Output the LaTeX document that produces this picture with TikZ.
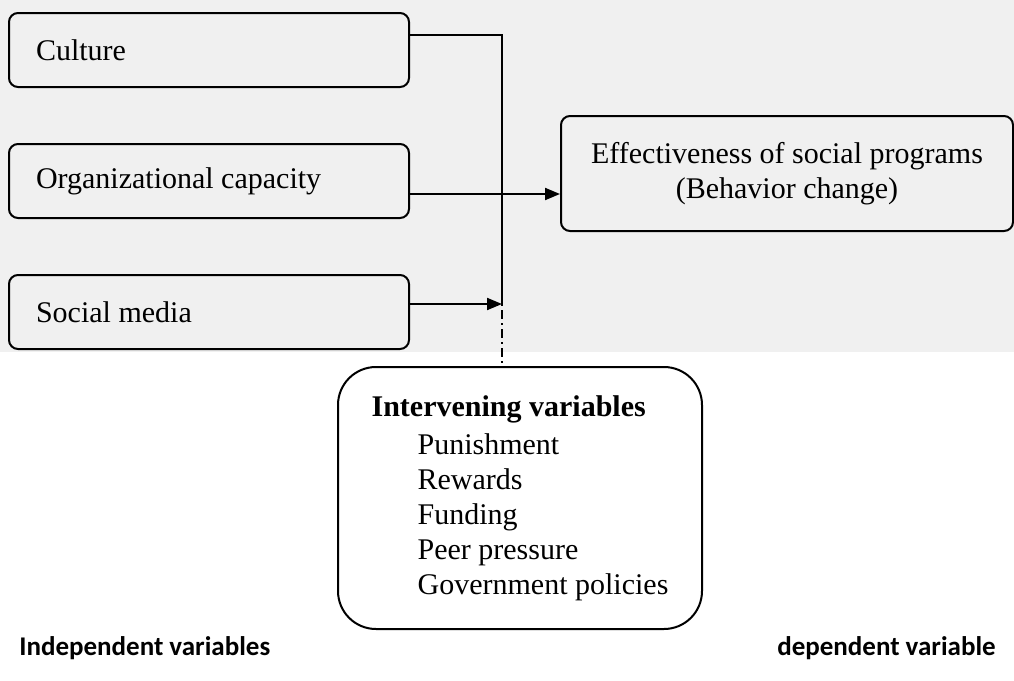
\documentclass[tikz,border=0pt]{standalone}
\usepackage{fontspec}
\setmainfont{Liberation Serif}
\newfontfamily\calfont{Carlito}
\usetikzlibrary{positioning,arrows.meta}

\begin{document}
\begin{tikzpicture}[x=1pt,y=-1pt,>={Triangle[length=15pt,width=12pt]},
		line width=2pt,node distance=55pt,
		font=\fontsize{30}{35}\selectfont,
		var/.style={draw,rounded corners=9pt,minimum width=400pt,minimum height=74pt,
			text width=346pt,inner xsep=27pt,align=flush left},
		caption/.style={font=\calfont\bfseries\fontsize{27}{32}\selectfont}]
		\useasboundingbox (0,0) rectangle (1014,680);
		\fill[black!6] (0,0) rectangle (1014,352);
	
		\node[var,anchor=north west] (cult) at (8,12) {Culture};
		\node[var,below=of cult] (org) {Organizational capacity};
		\node[var,below=of org] (soc) {Social media};
	
		\node[draw,rounded corners=9pt,minimum width=452pt,minimum height=115pt,align=center,
			anchor=north west] (effect) at (560,115) {Effectiveness of social programs\\(Behavior change)};
	
		\node[draw,rounded corners=38pt,minimum width=364pt,minimum height=262pt,align=left,
			anchor=north west] (inter) at (337,366)
			{{\bfseries Intervening variables}\\[3pt]
			\hspace*{46pt}Punishment\\
			\hspace*{46pt}Rewards\\
			\hspace*{46pt}Funding\\
			\hspace*{46pt}Peer pressure\\
			\hspace*{46pt}Government policies};
	
		\node[caption,anchor=west] (indep) at (15,648) {Independent variables};
		\node[caption,anchor=east] (dep) at (1000,648) {dependent variable};
	
		\coordinate (cultout) at ([yshift=15pt]cult.east);
		\coordinate (orgout) at ([yshift=-13pt]org.east);
		\coordinate (socout) at ([yshift=8pt]soc.east);
		\coordinate (bus) at ([xshift=92pt]socout);
	
		\draw (cultout) -| (bus);
		\draw[->] (orgout) -- (orgout -| effect.west);
		\draw[->] (socout) -- (bus);
		\draw[dash pattern=on 2pt off 4pt on 9pt off 4pt] (bus) -- (bus |- inter.north);
		\end{tikzpicture}
\end{document}
